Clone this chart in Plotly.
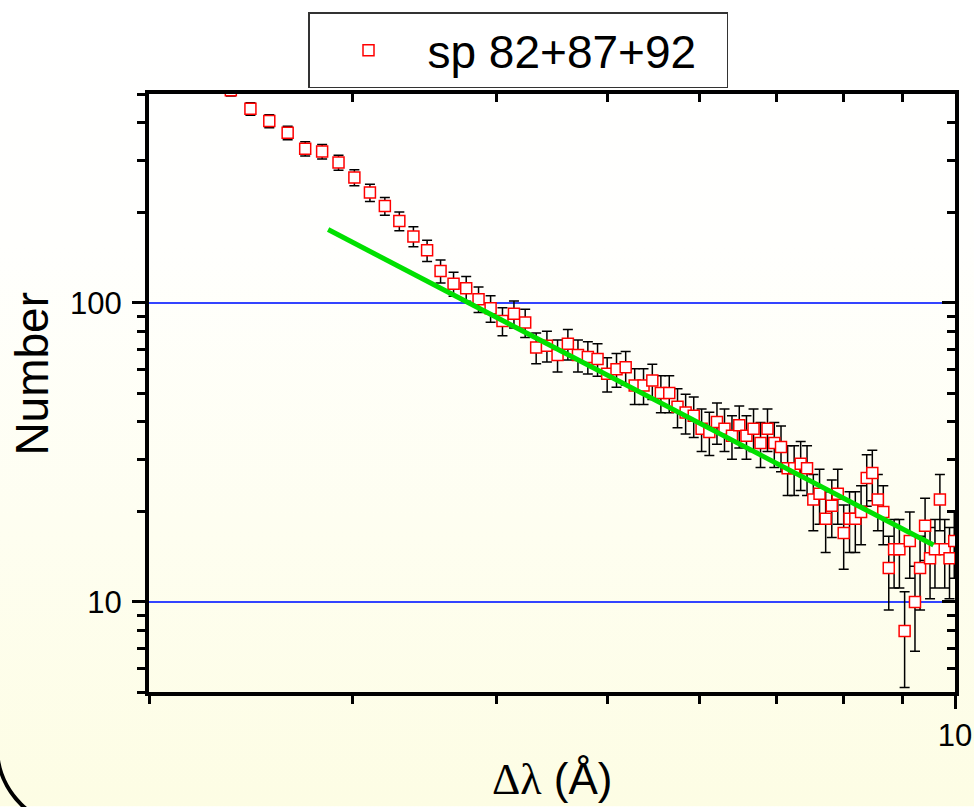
import base64
import numpy as np
import plotly.graph_objects as go

# Wavelength separation of each bin (Å)
delta_lambda = [
    2.355, 2.449, 2.543, 2.638, 2.732, 2.826, 2.920, 3.014, 3.109, 3.203,
    3.297, 3.391, 3.485, 3.580, 3.674, 3.768, 3.862, 3.956, 4.051, 4.145,
    4.239, 4.333, 4.427, 4.522, 4.616, 4.710, 4.804, 4.898, 4.993, 5.087,
    5.181, 5.275, 5.369, 5.464, 5.558, 5.652, 5.746, 5.840, 5.935, 6.029,
    6.123, 6.217, 6.311, 6.406, 6.500, 6.594, 6.688, 6.782, 6.877, 6.971,
    7.065, 7.159, 7.253, 7.348, 7.442, 7.536, 7.630, 7.724, 7.819, 7.913,
    8.007, 8.101, 8.195, 8.290, 8.384, 8.478, 8.572, 8.666, 8.761, 8.855,
    8.949, 9.043, 9.137, 9.232, 9.326, 9.420, 9.514, 9.608, 9.703, 9.797,
    9.891, 9.985,
]

# Number of pairs found in each bin
counts = [
    515, 446, 406, 371, 328, 321, 295, 263, 234, 211,
    188, 167, 150, 128, 116, 112, 103, 96, 87, 92,
    86, 71, 72, 67, 73, 67, 66, 65, 58, 60,
    61, 53, 53, 55, 50, 50, 45, 43, 42, 38,
    37, 40, 38, 36, 39, 36, 38, 34, 38, 34,
    33, 28, 28, 29, 28, 22, 23, 19, 21, 23,
    17, 19, 19, 20, 26, 27, 22, 20, 13, 15,
    15, 8, 16, 10, 13, 18, 14, 15, 22, 15,
    14, 16,
]

# Poisson uncertainty on each count
count_err = np.sqrt(np.array(counts, dtype=float))

# Power-law fit (slope -2 in log-log), drawn between its end points
fit_x = [2.86, 9.58]
fit_y = [176, 15.5]

series_name = "sp 82+87+92"

x_major = [10]
x_minor = [2, 3, 4, 5, 6, 7, 8, 9]
y_major = [10, 100]
y_minor = [5, 6, 7, 8, 9, 20, 30, 40, 50, 60, 70, 80, 90, 200, 300, 400, 500]

X_RANGE = [np.log10(2), 1]
Y_RANGE = [np.log10(5), np.log10(500)]

W, H = 974, 807
PL, PR, PT, PB = 149, 955, 91, 692


def paper_x(px):
    return (px - PL) / (PR - PL)


def paper_y(py):
    return (PB - py) / (PB - PT)


FONT = "Liberation Sans, Arial, sans-serif"

fig = go.Figure()

fig.add_trace(go.Scatter(
    x=delta_lambda, y=counts,
    mode="markers",
    name=series_name,
    marker=dict(symbol="square", size=11, color="white",
                line=dict(color="#FF0000", width=1.5)),
    error_y=dict(type="data", array=count_err, visible=True,
                 color="black", thickness=1.5, width=5),
))

# fit line lives on the mirrored (top/right) axes, which share the same ranges
fig.add_trace(go.Scatter(
    x=fit_x, y=fit_y, mode="lines", showlegend=False,
    xaxis="x2", yaxis="y2",
    line=dict(color="#00E000", width=5),
))

# page background: white fading to pale yellow
svg = (
    f'<svg xmlns="http://www.w3.org/2000/svg" width="{W}" height="{H}" '
    f'viewBox="0 0 {W} {H}" preserveAspectRatio="none">'
    '<defs><linearGradient id="g" x1="0" y1="0" x2="0" y2="1">'
    '<stop offset="0" stop-color="#FFFFFF"/>'
    '<stop offset="0.3" stop-color="#FFFFFD"/>'
    '<stop offset="1" stop-color="#FDFDE4"/>'
    '</linearGradient></defs>'
    f'<rect width="{W}" height="{H}" fill="url(#g)"/></svg>'
)
bg_src = "data:image/svg+xml;base64," + base64.b64encode(svg.encode()).decode()

axis_common = dict(
    type="log", showline=True, linecolor="black", linewidth=4,
    tickcolor="black", tickwidth=3, ticklen=13,
    zeroline=False, automargin=False,
    tickfont=dict(family=FONT, size=31, color="black"),
)


def minor_ticks(vals, direction):
    return dict(tickvals=vals, ticks=direction, ticklen=8, tickwidth=3,
                tickcolor="black", showgrid=False)


fig.update_layout(
    width=W, height=H, autosize=False,
    margin=dict(l=PL, r=W - PR, t=PT, b=H - PB, pad=0),
    paper_bgcolor="white",
    plot_bgcolor="rgba(0,0,0,0)",
    font=dict(family=FONT, color="black"),
    xaxis=dict(
        **axis_common, range=X_RANGE, showgrid=False,
        tickvals=x_major, ticktext=[str(v) for v in x_major],
        ticks="outside",
        minor=minor_ticks(x_minor, "outside"),
    ),
    yaxis=dict(
        **axis_common, range=Y_RANGE,
        tickvals=y_major, ticktext=[str(v) for v in y_major],
        ticks="outside", ticklabelstandoff=4,
        showgrid=True, gridcolor="#3344FF", gridwidth=1.5,
        minor=minor_ticks(y_minor, "outside"),
    ),
    xaxis2=dict(
        **axis_common, range=X_RANGE, showgrid=False,
        overlaying="x", side="top", anchor="y",
        tickvals=x_major, ticks="inside", showticklabels=False,
        minor=minor_ticks(x_minor, "inside"),
    ),
    yaxis2=dict(
        **axis_common, range=Y_RANGE, showgrid=False,
        overlaying="y", side="right", anchor="x",
        tickvals=y_major, ticks="inside", showticklabels=False,
        minor=minor_ticks(y_minor, "inside"),
    ),
    legend=dict(
        x=paper_x(308), y=paper_y(9), xanchor="left", yanchor="top",
        orientation="h", entrywidth=294, entrywidthmode="pixels",
        bgcolor="white", bordercolor="#333333", borderwidth=1.5,
        font=dict(family=FONT, size=46, color="black"),
        itemwidth=108,
    ),
    images=[dict(
        source=bg_src, xref="paper", yref="paper",
        x=paper_x(0), y=paper_y(0), sizex=paper_x(W) - paper_x(0),
        sizey=paper_y(0) - paper_y(H), xanchor="left", yanchor="top",
        sizing="stretch", layer="below",
    )],
    annotations=[
        dict(text="Number", x=paper_x(32), y=paper_y(372),
             xref="paper", yref="paper", showarrow=False, textangle=-90,
             xanchor="center", yanchor="middle",
             font=dict(family=FONT, size=46, color="black")),
        dict(text='<span style="font-family:Liberation Serif, Times New Roman, serif">Δλ</span> (Å)',
             x=paper_x(552), y=paper_y(779),
             xref="paper", yref="paper", showarrow=False,
             xanchor="center", yanchor="middle",
             font=dict(family=FONT, size=44, color="black")),
    ],
    shapes=[dict(
        type="path", xref="paper", yref="paper", layer="above",
        path=(f"M {paper_x(-3)},{paper_y(747)} "
              f"C {paper_x(-3)},{paper_y(792)} {paper_x(34)},{paper_y(829)} "
              f"{paper_x(79)},{paper_y(829)}"),
        line=dict(color="black", width=4),
    )],
)

fig.write_html("out.html")
